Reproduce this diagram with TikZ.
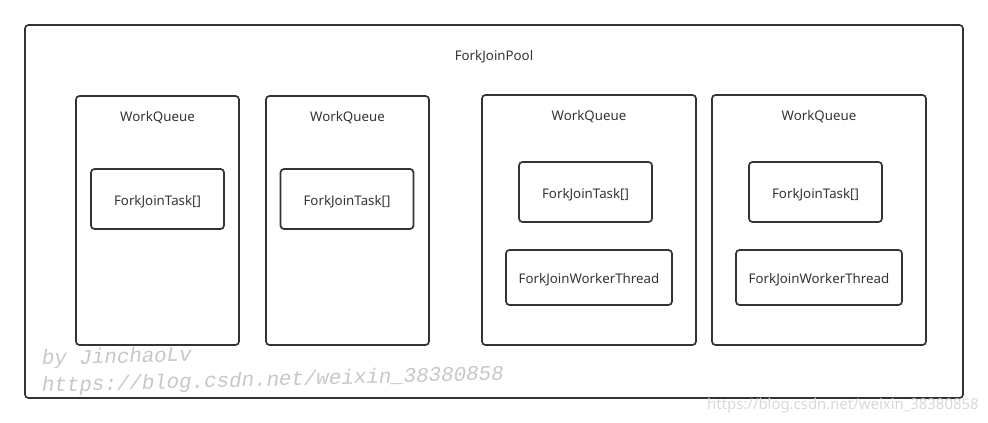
\documentclass[tikz,border=0pt]{standalone}
\usepackage{fontspec}
\setmainfont{Noto Sans}
\newfontfamily\markfont{Liberation Mono}
\usepackage{tikz}
\usetikzlibrary{calc}

\tikzset{
  box/.style={draw=black!80, line width=1.7pt, rounded corners=3.5pt, minimum width=#1},
  box/.default=133pt,
  boxtext/.style={font=\fontsize{13.3}{15}\selectfont, text=black!80, text height=12.5pt, text depth=0pt},
  marktext/.style={anchor=base west, inner sep=0pt, rotate=1.5, text=black!22,
                   font=\markfont\itshape\fontsize{20.8}{22}\selectfont},
}

\begin{document}
\begin{tikzpicture}[x=1pt, y=-1pt]
            % Fix the canvas to the reference size
            \useasboundingbox (0,0) rectangle (988,423);

            % Outer pool
            \node[box=938pt, minimum height=373pt] (pool) at (494,211.5) {};
            \node[boxtext] (poollabel) at (494,54) {ForkJoinPool};

            % Queues without a worker
            \node[box=163pt, minimum height=249pt] (wq1) at (157.5,220.5) {};
            \node[box=163pt, minimum height=249pt] (wq2) at (347.5,220.5) {};
            % Queues with a worker
            \node[box=214pt, minimum height=250pt] (wq3) at (589,220) {};
            \node[box=214pt, minimum height=250pt] (wq4) at (819,220) {};

            % Queue labels
            \node[boxtext] (wq1label) at ($(wq1.north)+(0,20)$) {WorkQueue};
            \node[boxtext] (wq2label) at ($(wq2.north)+(0,20)$) {WorkQueue};
            \node[boxtext] (wq3label) at ($(wq3.north)+(0,20)$) {WorkQueue};
            \node[boxtext] (wq4label) at ($(wq4.north)+(0,20)$) {WorkQueue};

            % Task arrays
            \node[box, boxtext, minimum height=60pt] (task1) at (157.5,199) {ForkJoinTask[]};
            \node[box, boxtext, minimum height=60pt] (task2) at (347,199) {ForkJoinTask[]};
            \node[box, boxtext, minimum height=60pt] (task3) at (585.5,192) {ForkJoinTask[]};
            \node[box, boxtext, minimum height=60pt] (task4) at (815.5,192) {ForkJoinTask[]};

            % Worker threads
            \node[box=166pt, boxtext, minimum height=55pt] (thread3) at (589,277.5) {ForkJoinWorkerThread};
            \node[box=166pt, boxtext, minimum height=55pt] (thread4) at (819,277.5) {ForkJoinWorkerThread};

            % Watermarks
            \node[marktext] (mark1) at (42,365) {by JinchaoLv};
            \node[marktext] (mark2) at (42,392) {https://blog.csdn.net/weixin\_38380858};
            \node[anchor=base west, inner sep=0pt, text=black!15,
                  font=\fontsize{14.9}{16}\selectfont] (mark3) at (707,409)
                  {https://blog.csdn.net/weixin\_38380858};
\end{tikzpicture}
\end{document}
